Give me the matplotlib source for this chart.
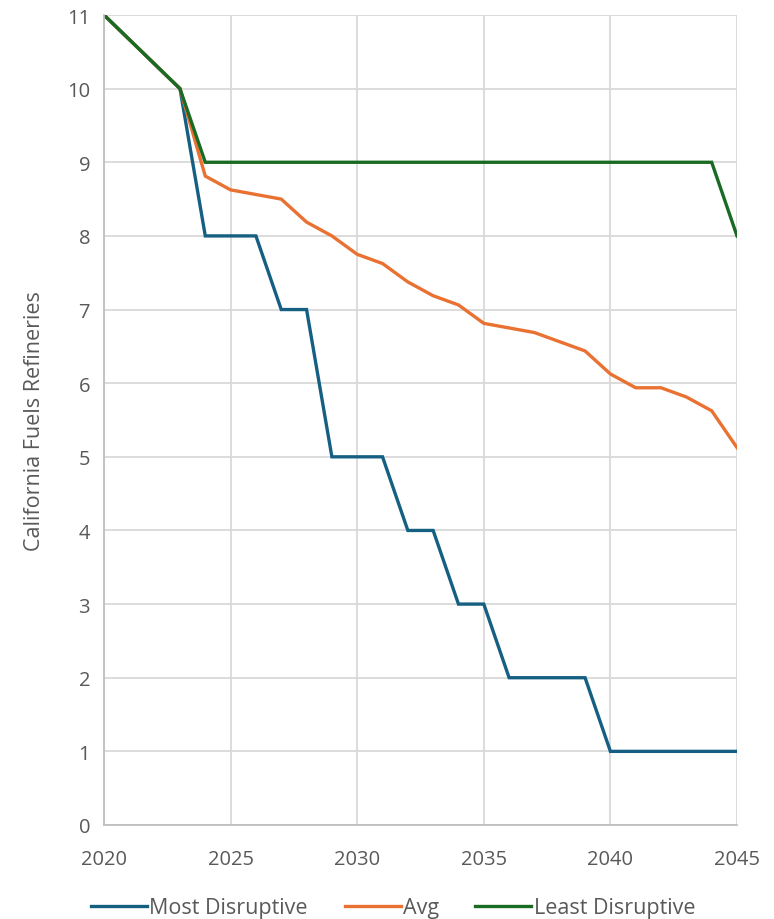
import matplotlib
matplotlib.use("Agg")
import matplotlib.pyplot as plt

years = list(range(2020, 2046))
most_disruptive = [11, 10.667, 10.333, 10, 8, 8, 8, 7, 7, 5, 5, 5, 4, 4, 3, 3, 2, 2, 2, 2, 1, 1, 1, 1, 1, 1]
avg = [11, 10.667, 10.333, 10, 8.8125, 8.625, 8.5625, 8.5, 8.1875, 8.0, 7.75, 7.625, 7.375, 7.1875,
       7.0625, 6.8125, 6.75, 6.6875, 6.5625, 6.4375, 6.125, 5.9375, 5.9375, 5.8125, 5.625, 5.125]
least_disruptive = [11, 10.667, 10.333, 10] + [9] * 21 + [8]
series_names = ["Most Disruptive", "Avg", "Least Disruptive"]
colors = ["#156082", "#E97132", "#196B24"]
x_ticks = [2020, 2025, 2030, 2035, 2040, 2045]
y_ticks = list(range(0, 12))

plt.rcParams['font.family'] = ['Open Sans', 'DejaVu Sans']

fig = plt.figure(figsize=(7.74, 9.2), dpi=100)
ax = fig.add_axes([104/774, 1 - 826/920, (737-104)/774, (826-16)/920])

for vals, name, c in zip([most_disruptive, avg, least_disruptive], series_names, colors):
    ax.plot(years, vals, color=c, lw=2.4, label=name, solid_joinstyle='miter')

ax.set_xlim(2020, 2045)
ax.set_ylim(0, 11)
ax.set_xticks(x_ticks)
ax.set_yticks(y_ticks)
ax.grid(True, color="#D9D9D9", lw=1.3)
ax.set_axisbelow(True)
for s in ["top", "right"]:
    ax.spines[s].set_visible(False)
for s in ["left", "bottom"]:
    ax.spines[s].set_color("#BFBFBF")
    ax.spines[s].set_linewidth(1.3)
ax.tick_params(length=0, labelsize=14.5, colors="#595959", pad=10)
ax.tick_params(axis='x', pad=17)
ax.set_ylabel("California Fuels Refineries", fontsize=15.5, color="#595959", labelpad=16)

handles, labels = ax.get_legend_handles_labels()
fig.legend(handles, labels, loc="center", bbox_to_anchor=(0.508, 1 - 909/920), ncol=3,
           frameon=False, fontsize=15.5, labelcolor="#595959", handlelength=2.6,
           handletextpad=0.1, columnspacing=1.7)

fig.savefig("out.png", dpi=100)
